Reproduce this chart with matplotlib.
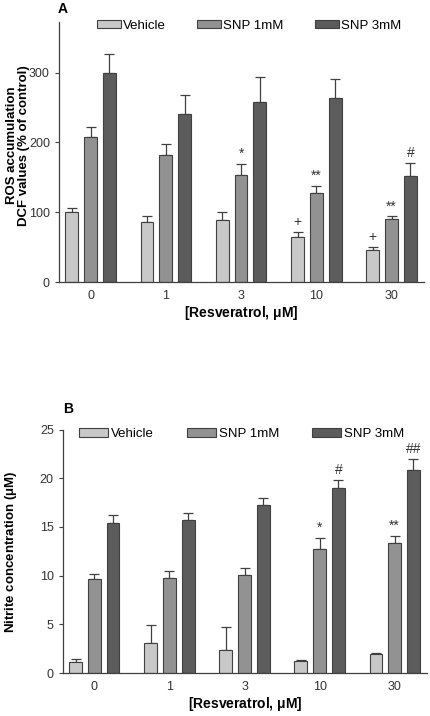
import numpy as np
import matplotlib
matplotlib.use("Agg")
import matplotlib.pyplot as plt

plt.rcParams['font.family'] = ['Liberation Sans', 'DejaVu Sans']
plt.rcParams['mathtext.default'] = 'regular'

doses = ["0", "1", "3", "10", "30"]
groups = ["Vehicle", "SNP 1mM", "SNP 3mM"]
colors = ["#c8c8c8", "#929292", "#5c5c5c"]

# panel A: ROS accumulation (% of control)
ros_vehicle = [100, 86, 89, 64, 46]
ros_vehicle_err = [6, 9, 11, 7, 4]
ros_snp1 = [207, 182, 154, 127, 90]
ros_snp1_err = [15, 16, 15, 11, 4]
ros_snp3 = [299, 240, 258, 264, 152]
ros_snp3_err = [27, 28, 35, 27, 18]
ros_marks = [["", "", "", "+", "+"],
             ["", "", "*", "**", "**"],
             ["", "", "", "", "#"]]

# panel B: nitrite concentration (uM)
no_vehicle = [1.17, 3.13, 2.41, 1.24, 1.93]
no_vehicle_err = [0.25, 1.8, 2.35, 0.06, 0.1]
no_snp1 = [9.7, 9.8, 10.1, 12.7, 13.4]
no_snp1_err = [0.42, 0.7, 0.68, 1.17, 0.7]
no_snp3 = [15.4, 15.7, 17.3, 19.0, 20.9]
no_snp3_err = [0.8, 0.76, 0.7, 0.8, 1.1]
no_marks = [["", "", "", "", ""],
            ["", "", "", "*", "**"],
            ["", "", "", "#", "##"]]

fig = plt.figure(figsize=(4.3, 7.16), dpi=100)
axA = fig.add_axes([0.137, 0.606, 0.849, 0.363])
axB = fig.add_axes([0.146, 0.060, 0.847, 0.340])

x = np.arange(len(doses))
w = 0.17
off = 0.25


def draw(ax, vals, errs, marks, ymax, yticks, ylabel, ylabel_x, ylabel_y):
    for i in range(3):
        xs = x + (i - 1) * off
        ax.bar(xs, vals[i], w, color=colors[i], edgecolor="#404040",
               linewidth=0.8, label=groups[i], zorder=2)
        ax.errorbar(xs, vals[i], yerr=[np.zeros(len(x)), errs[i]], fmt="none",
                    ecolor="#404040", elinewidth=0.9, capsize=3.5,
                    capthick=0.9, zorder=1)
        for j in range(len(x)):
            if marks[i][j]:
                ax.text(xs[j], vals[i][j] + errs[i][j] + ymax * 0.012,
                        marks[i][j], ha="center", va="bottom", fontsize=10,
                        color="#333333")
    ax.set_xlim(-0.42, 4.43)
    ax.set_ylim(0, ymax)
    ax.set_xticks(x)
    ax.set_xticklabels(doses)
    ax.set_yticks(yticks)
    ax.spines["top"].set_visible(False)
    ax.spines["right"].set_visible(False)
    for s in ["left", "bottom"]:
        ax.spines[s].set_color("#404040")
        ax.spines[s].set_linewidth(0.9)
    ax.tick_params(axis="y", length=3, width=0.8, color="#404040",
                   labelsize=9, labelcolor="#333333")
    ax.tick_params(axis="x", length=0, labelsize=9, labelcolor="#333333", pad=6)
    ax.set_xlabel("[Resveratrol, $\\mu$M]", fontsize=10, fontweight="bold",
                  labelpad=1)
    ax.set_ylabel(ylabel, fontsize=9.5, fontweight="bold", linespacing=1.0)
    ax.yaxis.set_label_coords(ylabel_x, ylabel_y)


draw(axA, [ros_vehicle, ros_snp1, ros_snp3],
     [ros_vehicle_err, ros_snp1_err, ros_snp3_err], ros_marks,
     372, [0, 100, 200, 300], "ROS accumulation\nDCF values (% of control)",
     -0.08, 0.525)
axA.legend(loc="upper left", bbox_to_anchor=(0.072, 1.055), ncol=3,
           frameon=False, fontsize=9.5, handlelength=1.8, handleheight=0.6,
           columnspacing=2.4, handletextpad=0.15)

draw(axB, [no_vehicle, no_snp1, no_snp3],
     [no_vehicle_err, no_snp1_err, no_snp3_err], no_marks,
     25, [0, 5, 10, 15, 20, 25], "Nitrite concentration ($\\mu$M)",
     -0.12, 0.5)
axB.legend(loc="upper left", bbox_to_anchor=(0.013, 1.055), ncol=3,
           frameon=False, fontsize=9.5, handlelength=2.2, handleheight=0.6,
           columnspacing=2.5, handletextpad=0.2)

fig.text(0.135, 0.997, "A", fontsize=10, fontweight="bold", va="top")
fig.text(0.147, 0.438, "B", fontsize=10, fontweight="bold", va="top")

fig.savefig("out.png", dpi=100)
